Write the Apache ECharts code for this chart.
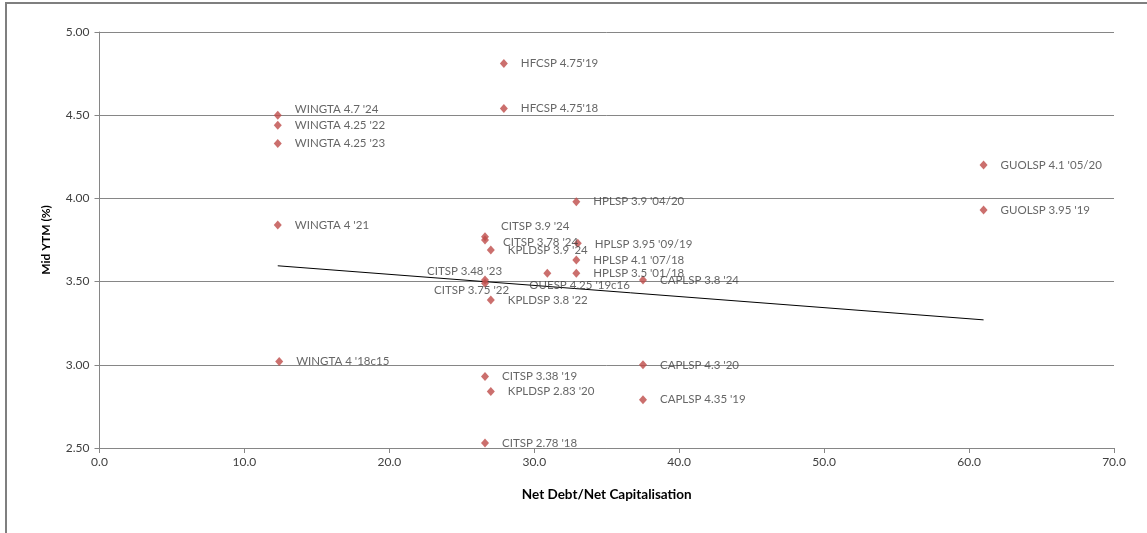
<!DOCTYPE html>
<html>
<head>
<meta charset="utf-8">
<script src="https://cdn.jsdelivr.net/npm/echarts@6/dist/echarts.min.js"></script>
<style>
html,body{margin:0;padding:0;background:#fff;}
#chart{width:1147px;height:533px;}
</style>
</head>
<body>
<div id="chart"></div>
<script>
// ---- data ----
const bondNames = [
  "HFCSP 4.75'19", "HFCSP 4.75'18", "WINGTA 4.7 '24", "WINGTA 4.25 '22", "WINGTA 4.25 '23",
  "GUOLSP 4.1 '05/20", "GUOLSP 3.95 '19", "HPLSP 3.9 '04/20", "WINGTA 4 '21",
  "CITSP 3.9 '24", "CITSP 3.78 '24", "HPLSP 3.95 '09/19", "KPLDSP 3.9 '24", "HPLSP 4.1 '07/18",
  "OUESP 4.25 '19c16", "HPLSP 3.5 '01/18", "CITSP 3.48 '23", "CITSP 3.75 '22", "CAPLSP 3.8 '24",
  "KPLDSP 3.8 '22", "WINGTA 4 '18c15", "CITSP 3.38 '19", "KPLDSP 2.83 '20", "CITSP 2.78 '18",
  "CAPLSP 4.3 '20", "CAPLSP 4.35 '19"
];
const netDebtCap = [
  27.9, 27.9, 12.3, 12.3, 12.3,
  61.0, 61.0, 32.9, 12.3,
  26.6, 26.6, 33.0, 27.0, 32.9,
  30.9, 32.9, 26.6, 26.6, 37.5,
  27.0, 12.4, 26.6, 27.0, 26.6,
  37.5, 37.5
];
const midYtm = [
  4.81, 4.54, 4.50, 4.44, 4.33,
  4.20, 3.93, 3.98, 3.84,
  3.77, 3.75, 3.73, 3.69, 3.63,
  3.55, 3.55, 3.51, 3.49, 3.51,
  3.39, 3.02, 2.93, 2.84, 2.53,
  3.00, 2.79
];
const trendX = [12.3, 61.0];
const trendY = [3.595, 3.270];
const yTicks = [2.5, 5.0, 0.5];
const xTicks = [0, 70, 10];

// ---- label layout nudges in pixels (not data) ----
const labelNudge = {
  "WINGTA 4.7 '24": [1, -6],
  "CITSP 3.9 '24": [0, -10],
  "CITSP 3.78 '24": [2, 2],
  "HPLSP 3.95 '09/19": [1, 1],
  "CITSP 3.48 '23": [-74, -9],
  "CITSP 3.75 '22": [-67, 7],
  "OUESP 4.25 '19c16": [-34, 12]
};

const LABEL_COLOR = '#404040';
const FONT = 'Lato, "Open Sans", sans-serif';

const pts = bondNames.map((n, i) => ({name: n, value: [netDebtCap[i], midYtm[i]]}));

const chart = echarts.init(document.getElementById('chart'), null, {renderer: 'canvas'});
chart.setOption({
  animation: false,
  backgroundColor: '#fff',
  graphic: [{
    type: 'rect', silent: true,
    shape: {x: 6, y: 3, width: 1200, height: 600},
    style: {fill: 'none', stroke: '#7f7f7f', lineWidth: 2}
  }],
  grid: {left: 99.5, right: 33, top: 32, bottom: 85},
  xAxis: {
    type: 'value', min: xTicks[0], max: xTicks[1], interval: xTicks[2],
    name: 'Net Debt/Net Capitalisation', nameLocation: 'middle', nameGap: 40,
    nameTextStyle: {fontFamily: FONT, fontWeight: 'bold', fontSize: 13.5, color: '#000'},
    axisLine: {lineStyle: {color: '#868686', width: 1}},
    axisTick: {show: true, inside: false, length: 5, lineStyle: {color: '#868686'}},
    axisLabel: {formatter: v => v.toFixed(1), fontFamily: FONT, fontSize: 12, color: LABEL_COLOR, margin: 8},
    splitLine: {show: false}
  },
  yAxis: {
    type: 'value', min: yTicks[0], max: yTicks[1], interval: yTicks[2],
    name: 'Mid YTM (%)', nameLocation: 'middle', nameGap: 47, nameRotate: 90,
    nameTextStyle: {fontFamily: FONT, fontWeight: 'bold', fontSize: 12, color: '#000'},
    axisLine: {show: true, lineStyle: {color: '#868686', width: 1}},
    axisTick: {show: true, inside: false, length: 5, lineStyle: {color: '#868686'}},
    axisLabel: {formatter: v => v.toFixed(2), fontFamily: FONT, fontSize: 12, color: LABEL_COLOR, margin: 10},
    splitLine: {show: true, lineStyle: {color: '#868686', width: 1}}
  },
  series: [
    {
      type: 'scatter',
      symbol: 'diamond',
      symbolSize: [8, 9],
      itemStyle: {color: '#BE4B48'},
      label: {show: true, position: 'right', distance: 12, formatter: p => p.name,
              fontFamily: FONT, fontSize: 11.5, color: LABEL_COLOR},
      labelLayout: function (params) {
        const n = bondNames[params.dataIndex];
        const d = labelNudge[n] || [1, 0];
        return {dx: d[0], dy: d[1], hideOverlap: false};
      },
      data: pts,
      z: 3
    },
    {
      type: 'line',
      data: trendX.map((x, i) => [x, trendY[i]]),
      symbol: 'none',
      lineStyle: {color: '#000', width: 1},
      z: 2
    }
  ]
});
</script>
</body>
</html>
